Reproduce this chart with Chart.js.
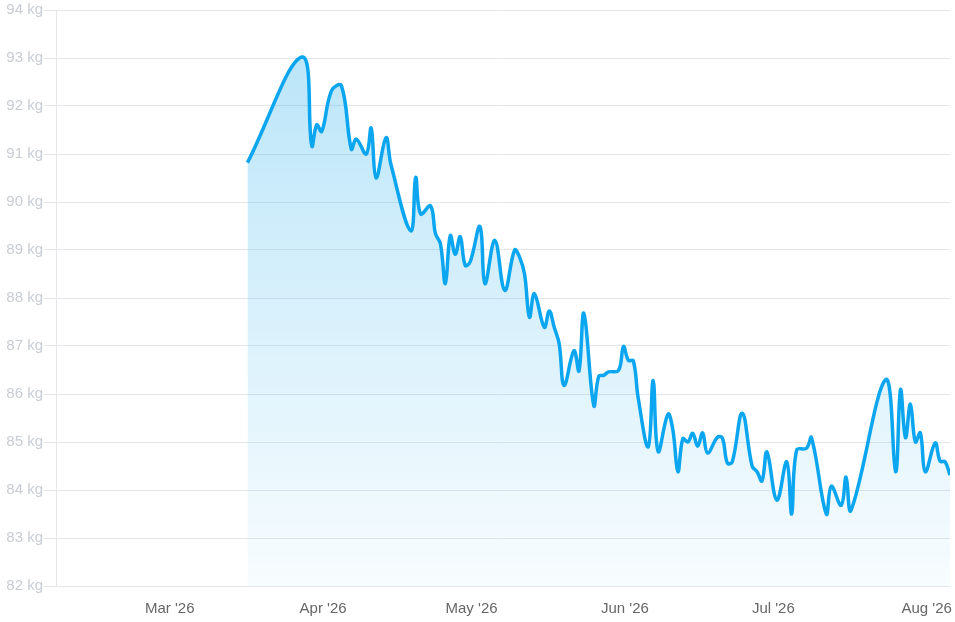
<!DOCTYPE html>
<html>
<head>
<meta charset="utf-8">
<script src="https://cdn.jsdelivr.net/npm/chart.js@4.4.1/dist/chart.umd.min.js"></script>
<style>
  html, body { margin: 0; padding: 0; background: #fff; }
  #wrap { width: 955px; height: 622px; position: relative; }
</style>
</head>
<body>
<div id="wrap"><canvas id="weightChart"></canvas></div>
<script>
// weigh-in dates and weights (kg)
const dates = [
  '2026-03-17','2026-03-28','2026-03-30','2026-03-31','2026-04-01','2026-04-03','2026-04-05',
  '2026-04-07','2026-04-08','2026-04-10','2026-04-11','2026-04-12','2026-04-14','2026-04-15',
  '2026-04-19','2026-04-20','2026-04-21','2026-04-23','2026-04-24','2026-04-25','2026-04-26',
  '2026-04-27','2026-04-28','2026-04-29','2026-04-30','2026-05-01','2026-05-03','2026-05-04',
  '2026-05-06','2026-05-08','2026-05-10','2026-05-11','2026-05-12','2026-05-13','2026-05-14',
  '2026-05-16','2026-05-17','2026-05-18','2026-05-19','2026-05-20','2026-05-22','2026-05-23',
  '2026-05-24','2026-05-26','2026-05-27','2026-05-28','2026-05-29','2026-05-31','2026-06-01',
  '2026-06-02','2026-06-03','2026-06-04','2026-06-06','2026-06-07','2026-06-08','2026-06-10',
  '2026-06-11','2026-06-12','2026-06-13','2026-06-14','2026-06-15','2026-06-16','2026-06-17',
  '2026-06-18','2026-06-20','2026-06-21','2026-06-22','2026-06-23','2026-06-25','2026-06-27',
  '2026-06-28','2026-06-29','2026-06-30','2026-07-02','2026-07-04','2026-07-05','2026-07-06',
  '2026-07-08','2026-07-09','2026-07-12','2026-07-13','2026-07-15','2026-07-16','2026-07-17',
  '2026-07-24','2026-07-26','2026-07-27','2026-07-28','2026-07-29','2026-07-30','2026-07-31',
  '2026-08-01','2026-08-03','2026-08-04','2026-08-05','2026-08-06'
];
const weights = [
  90.82, 93.02, 91.17, 91.61, 91.47, 92.32, 92.42,
  91.10, 91.31, 91.00, 91.54, 90.50, 91.34, 90.78,
  89.40, 90.51, 89.75, 89.92, 89.34, 89.13, 88.30,
  89.30, 88.91, 89.28, 88.68, 88.75, 89.49, 88.30,
  89.20, 88.16, 89.00, 88.85, 88.50, 87.60, 88.09,
  87.39, 87.73, 87.39, 87.05, 86.18, 86.90, 86.48,
  87.68, 85.76, 86.37, 86.39, 86.46, 86.49, 86.99,
  86.70, 86.69, 85.90, 84.90, 86.28, 84.80, 85.58,
  85.24, 84.38, 85.07, 85.00, 85.18, 84.91, 85.19,
  84.77, 85.10, 85.08, 84.56, 84.59, 85.60, 84.50,
  84.38, 84.19, 84.79, 83.79, 84.59, 83.50, 84.83,
  84.87, 85.09, 83.50, 84.08, 83.68, 84.27, 83.58,
  86.30, 84.38, 86.09, 85.09, 85.79, 85.00, 85.19,
  84.38, 84.98, 84.60, 84.59, 84.31
];

// x axis month ticks
const tickDates = ['2026-03-01','2026-04-01','2026-05-01','2026-06-01','2026-07-01','2026-08-01'];
const tickLabels = ["Mar '26", "Apr '26", "May '26", "Jun '26", "Jul '26", "Aug '26"];

// y axis range
const yMin = 82;
const yMax = 94;

// days since 1 Mar 2026 (UTC)
function dayNum(s) {
  let p = s.split('-');
  return (Date.UTC(+p[0], +p[1] - 1, +p[2]) - Date.UTC(2026, 2, 1)) / 864e5;
}
// month ticks sit on local midnight (UTC-7)
const TZ_SHIFT = 7 / 24;
const X_MIN = -22.7;
const X_MAX = dayNum('2026-08-06');

let points = dates.map((d, i) => ({ x: dayNum(d), y: weights[i] }));

let font = { family: 'Liberation Sans, Arial, sans-serif', size: 15 };

let ctx = document.getElementById('weightChart').getContext('2d');
let weightChart = new Chart(ctx, {
  type: 'line',
  data: {
    datasets: [{
      data: points,
      borderColor: '#0ba6ef',
      borderWidth: 3.5,
      pointRadius: 0,
      tension: 0.4,
      fill: 'start',
      backgroundColor: function(c) {
        let area = c.chart.chartArea;
        if (!area) return 'rgba(14,165,233,0.2)';
        let g = c.chart.ctx.createLinearGradient(0, area.top, 0, area.bottom);
        g.addColorStop(0, 'rgba(14,165,233,0.30)');
        g.addColorStop(1, 'rgba(14,165,233,0.03)');
        return g;
      }
    }]
  },
  options: {
    responsive: true,
    maintainAspectRatio: false,
    animation: false,
    layout: { padding: { top: -1, right: 5, left: 0, bottom: 0 } },
    plugins: {
      legend: { display: false },
      tooltip: { enabled: false }
    },
    scales: {
      x: {
        type: 'linear',
        min: X_MIN,
        max: X_MAX,
        grid: { display: false },
        border: { display: false },
        afterBuildTicks: function(scale) {
          scale.ticks = tickDates.map(d => ({ value: dayNum(d) + TZ_SHIFT }));
        },
        afterFit: function(scale) {
          scale.height = 36;
          scale.paddingRight = 0;
        },
        ticks: {
          autoSkip: false,
          maxRotation: 0,
          padding: 6,
          color: '#666',
          font: font,
          callback: function(value, index) { return tickLabels[index]; }
        }
      },
      y: {
        min: yMin,
        max: yMax,
        afterFit: function(scale) { scale.width = 56; },
        grid: { color: '#e6e7eb', tickLength: 12 },
        border: { color: '#e6e7eb' },
        ticks: {
          stepSize: 1,
          padding: 1,
          color: '#c8ccd3',
          font: font,
          callback: function(v) { return v + ' kg'; }
        }
      }
    }
  }
});
</script>
</body>
</html>
